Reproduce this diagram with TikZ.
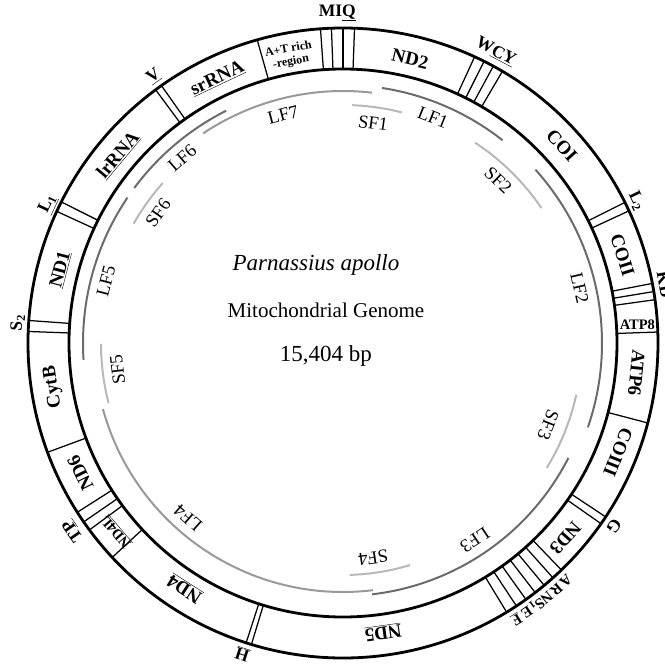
\documentclass[tikz,border=0pt]{standalone}
\usepackage{fontspec}
\setmainfont{Liberation Serif}
\begin{document}
\begin{tikzpicture}[x=1pt,y=1pt,
  ring/.style={line width=2.8pt},
  tick/.style={line width=1.25pt},
  gene/.style={font=\fontsize{19}{19}\selectfont\bfseries, inner sep=0pt},
  trna/.style={font=\fontsize{17.5}{17.5}\selectfont\bfseries, inner sep=0pt},
  trnas/.style={font=\fontsize{15}{15}\selectfont\bfseries, inner sep=0pt},
  frag/.style={font=\fontsize{18.5}{18.5}\selectfont, inner sep=0pt},
  darkarc/.style={line width=2pt, draw=black!58},
  midarc/.style={line width=2pt, draw=black!40},
  lightarc/.style={line width=2pt, draw=black!28},
  title/.style={font=\fontsize{21}{21}\selectfont, inner sep=0pt},
]
\useasboundingbox (-343,-322) rectangle (322,343);
% rings
\draw[ring] (0,0) circle (315);
\draw[ring] (0,0) circle (274);
% boundaries
\foreach \a in {105.8,94.1,92.1,90,87.9,65.3,63.4,61.5,59.6,26.5,24.8,10.9,9.4,7.9,2.0,-14.7,-33.5,-35.0,-46.1,-48.2,-50.3,-52.4,-54.5,-56.6,-58.7,252.1,253.1,222.9,216.4,214.6,212.5,200.3,177.9,175.9,155.3,153.4,126.5,125.2}
  \draw[tick] (\a:274) -- (\a:315);
% fragment arcs
\draw[darkarc] (81.3:258) arc[start angle=81.3, end angle=51.8, radius=258];
\draw[lightarc] (87.8:238) arc[start angle=87.8, end angle=75.7, radius=238];
\draw[midarc] (123.7:252) arc[start angle=123.7, end angle=83.4, radius=252];
\draw[lightarc] (56.6:240) arc[start angle=56.6, end angle=34.2, radius=240];
\draw[darkarc] (42:259) arc[start angle=42, end angle=-19, radius=259];
\draw[lightarc] (-12.5:239) arc[start angle=-12.5, end angle=-31.5, radius=239];
\draw[darkarc] (-27:253) arc[start angle=-27, end angle=-83.4, radius=253];
\draw[lightarc] (-73.2:232) arc[start angle=-73.2, end angle=-88.3, radius=232];
\draw[midarc] (276.9:249) arc[start angle=276.9, end angle=195.4, radius=249];
\draw[lightarc] (194.4:242) arc[start angle=194.4, end angle=180.2, radius=242];
\draw[darkarc] (183.7:260) arc[start angle=183.7, end angle=146, radius=260];
\draw[lightarc] (150.3:241) arc[start angle=150.3, end angle=138.4, radius=241];
\draw[darkarc] (143.4:260) arc[start angle=143.4, end angle=116.7, radius=260];
% fragment labels
\node[frag, rotate=14.7] (lf7) at (104.7:236) {LF7};
\node[frag, rotate=-7.8] (sf1) at (82.2:222) {SF1};
\node[frag, rotate=-21.7] (lf1) at (68.3:243) {LF1};
\node[frag, rotate=-43.6] (sf2) at (46.4:225) {SF2};
\node[frag, rotate=-76.9] (lf2) at (13.1:243) {LF2};
\node[frag, rotate=-111.8] (sf3) at (-21.8:221) {SF3};
\node[frag, rotate=-146.2] (lf3) at (-56.2:237) {LF3};
\node[frag, rotate=-172] (sf4) at (-82:217) {SF4};
\node[frag, rotate=138.5] (lf4) at (228.5:234) {LF4};
\node[frag, rotate=96.8] (sf5) at (186.8:227) {SF5};
\node[frag, rotate=75.3] (lf5) at (165.3:245) {LF5};
\node[frag, rotate=54.9] (sf6) at (144.9:226) {SF6};
\node[frag, rotate=41] (lf6) at (131:245) {LF6};
% gene labels
\node[gene, rotate=25.4] (srrna) at (115.4:293) {\underline{srRNA}};
\node[gene, font=\fontsize{12}{13}\selectfont\bfseries, align=center, rotate=10.5] (atr) at (100.5:292) {A+T rich\\-region};
\node[gene, rotate=-13.3] (nd2) at (76.7:292) {ND2};
\node[gene, rotate=-47.9] (coi) at (42.1:295) {COI};
\node[gene, rotate=-72.5] (coii) at (17.5:293) {COII};
\node[gene, font=\fontsize{14.5}{14.5}\selectfont\bfseries] (atp8) at (3.6:295) {ATP8};
\node[gene, rotate=-95.8] (atp6) at (-5.8:295) {ATP6};
\node[gene, rotate=-111.7] (coiii) at (-21.7:296) {COIII};
\node[gene, rotate=-131.3] (nd3) at (-41.3:296) {ND3};
\node[gene, rotate=187.9] (nd5) at (277.9:292) {\underline{ND5}};
\node[gene, rotate=147.2] (nd4) at (237.2:292) {\underline{ND4}};
\node[gene, font=\fontsize{14.5}{14.5}\selectfont\bfseries, rotate=130.5] (nd4l) at (219.8:295) {\underline{ND4L}};
\node[gene, rotate=116.3] (nd6) at (206.3:293) {ND6};
\node[gene, rotate=98.6] (cytb) at (188.6:293) {CytB};
\node[gene, rotate=75.4] (nd1) at (165.4:292) {\underline{ND1}};
\node[gene, rotate=50.1] (lrrna) at (140.1:293) {\underline{lrRNA}};
% tRNA labels
\node[trna] (miq) at (91:330) {MI\underline{Q}};
\node[trna, rotate=-27.7] (wcy) at (62.3:329) {W\underline{CY}};
\node[trna, rotate=-64.2] (l2) at (25.8:326) {L\textsubscript{2}};
\node[trna, rotate=-79.7] (kd) at (10.3:327) {KD};
\node[trna, rotate=-124] (g) at (-34:327) {G};
\node[trnas, rotate=-136.9] (ta) at (-46.9:326) {A};
\node[trnas, rotate=-139.1] (tr) at (-49.1:326) {R};
\node[trnas, rotate=-141.3] (tn) at (-51.3:326) {N};
\node[trnas, rotate=-143.5] (ts) at (-53.5:326) {S\textsubscript{1}};
\node[trnas, rotate=-145.7] (te) at (-55.7:326) {E};
\node[trnas, rotate=-147.9] (tf) at (-57.9:326) {\underline{F}};
\node[trna, rotate=162.1] (h) at (252.1:327) {\underline{H}};
\node[trna, rotate=124.8] (tp) at (214.8:329) {T\underline{P}};
\node[trna, rotate=86.5] (s2) at (176.5:326) {S\textsubscript{2}};
\node[trna, rotate=64.8] (l1) at (154.8:326) {\underline{L\textsubscript{1}}};
\node[trna, rotate=35.4] (v) at (125.4:327) {\underline{V}};
% centre title
\node[title, font=\fontsize{23}{23}\selectfont\itshape] (sp) at (-27,78) {Parnassius apollo};
\node[title] (mg) at (-17,33) {Mitochondrial Genome};
\node[title, font=\fontsize{23}{23}\selectfont] (bp) at (-17,-13) {15,404 bp};
\end{tikzpicture}
\end{document}
